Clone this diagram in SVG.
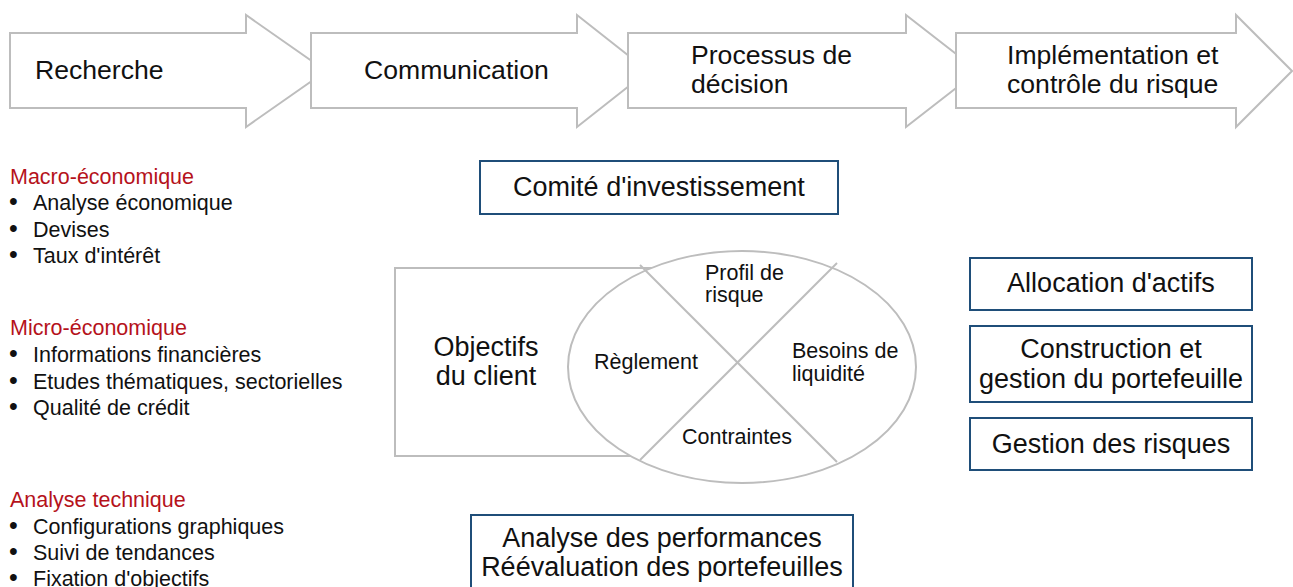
<svg xmlns="http://www.w3.org/2000/svg" width="1293" height="587" viewBox="0 0 1293 587">
<style>
text{font-family:"Liberation Sans",Arial,sans-serif;fill:#111}
.arrow{fill:#fff;stroke:#bdbdbd;stroke-width:2}
.big{font-size:26.6px}
.mid{font-size:27px;text-anchor:middle}
.ell{font-size:21.5px}
.list{font-size:21.5px}
.bul{font-size:25px}
.head{font-size:21.5px;fill:#b5121b}
.box{fill:#fff;stroke:#1f4e79;stroke-width:2}
.gray{fill:#fff;stroke:#bdbdbd;stroke-width:2}
</style>
<g id="arrow-recherche">
<path class="arrow" d="M10,33 H246 V15 L326,71 L246,127 V108 H10 Z"/>
<text class="big" x="35" y="79">Recherche</text>
</g>
<g id="arrow-communication">
<path class="arrow" d="M311,33 H577 V15 L648,71 L577,127 V108 H311 Z"/>
<text class="big" x="364" y="79">Communication</text>
</g>
<g id="arrow-decision">
<path class="arrow" d="M628,33 H906 V15 L978,71 L906,127 V108 H628 Z"/>
<text class="big" x="691" y="64">Processus de</text>
<text class="big" x="691" y="93">décision</text>
</g>
<g id="arrow-implementation">
<path class="arrow" d="M956,33 H1236 V15 L1292,71 L1236,127 V108 H956 Z"/>
<text class="big" x="1007" y="64">Implémentation et</text>
<text class="big" x="1007" y="93">contrôle du risque</text>
</g>
<g id="list-macro">
<text class="head" x="10" y="184">Macro-économique</text>
<text class="list" x="9" y="210"><tspan class="bul">•</tspan><tspan x="33">Analyse économique</tspan></text>
<text class="list" x="9" y="237"><tspan class="bul">•</tspan><tspan x="33">Devises</tspan></text>
<text class="list" x="9" y="263"><tspan class="bul">•</tspan><tspan x="33">Taux d'intérêt</tspan></text>
</g>
<g id="list-micro">
<text class="head" x="10" y="335">Micro-économique</text>
<text class="list" x="9" y="362"><tspan class="bul">•</tspan><tspan x="33">Informations financières</tspan></text>
<text class="list" x="9" y="389"><tspan class="bul">•</tspan><tspan x="33">Etudes thématiques, sectorielles</tspan></text>
<text class="list" x="9" y="415"><tspan class="bul">•</tspan><tspan x="33">Qualité de crédit</tspan></text>
</g>
<g id="list-technique">
<text class="head" x="10" y="507">Analyse technique</text>
<text class="list" x="9" y="534"><tspan class="bul">•</tspan><tspan x="33">Configurations graphiques</tspan></text>
<text class="list" x="9" y="560"><tspan class="bul">•</tspan><tspan x="33">Suivi de tendances</tspan></text>
<text class="list" x="9" y="586"><tspan class="bul">•</tspan><tspan x="33">Fixation d'objectifs</tspan></text>
</g>
<g id="comite">
<rect class="box" x="480" y="161" width="358" height="53"/>
<text class="mid" x="659" y="196">Comité d'investissement</text>
</g>
<g id="objectifs">
<rect class="gray" x="395" y="268" width="300" height="188"/>
<text class="mid" x="486" y="356">Objectifs</text>
<text class="mid" x="486" y="385">du client</text>
</g>
<g id="ellipse">
<ellipse class="gray" cx="742" cy="367" rx="174" ry="116"/>
<line x1="640" y1="265" x2="837" y2="462" stroke="#bdbdbd" stroke-width="2"/>
<line x1="837" y1="263" x2="640" y2="460" stroke="#bdbdbd" stroke-width="2"/>
<text class="ell" x="705" y="280">Profil de</text>
<text class="ell" x="705" y="302">risque</text>
<text class="ell" x="594" y="369">Règlement</text>
<text class="ell" x="792" y="358">Besoins de</text>
<text class="ell" x="792" y="381">liquidité</text>
<text class="ell" x="682" y="444">Contraintes</text>
</g>
<g id="allocation">
<rect class="box" x="970" y="258" width="282" height="52"/>
<text class="mid" x="1111" y="292">Allocation d'actifs</text>
</g>
<g id="construction">
<rect class="box" x="970" y="326" width="282" height="76"/>
<text class="mid" x="1111" y="358">Construction et</text>
<text class="mid" x="1111" y="388">gestion du portefeuille</text>
</g>
<g id="risques">
<rect class="box" x="970" y="418" width="282" height="52"/>
<text class="mid" x="1111" y="453">Gestion des risques</text>
</g>
<g id="performances">
<rect class="box" x="471" y="515" width="382" height="80"/>
<text class="mid" x="662" y="547">Analyse des performances</text>
<text class="mid" x="662" y="576">Réévaluation des portefeuilles</text>
</g>
<g id="connectors"></g>
</svg>
